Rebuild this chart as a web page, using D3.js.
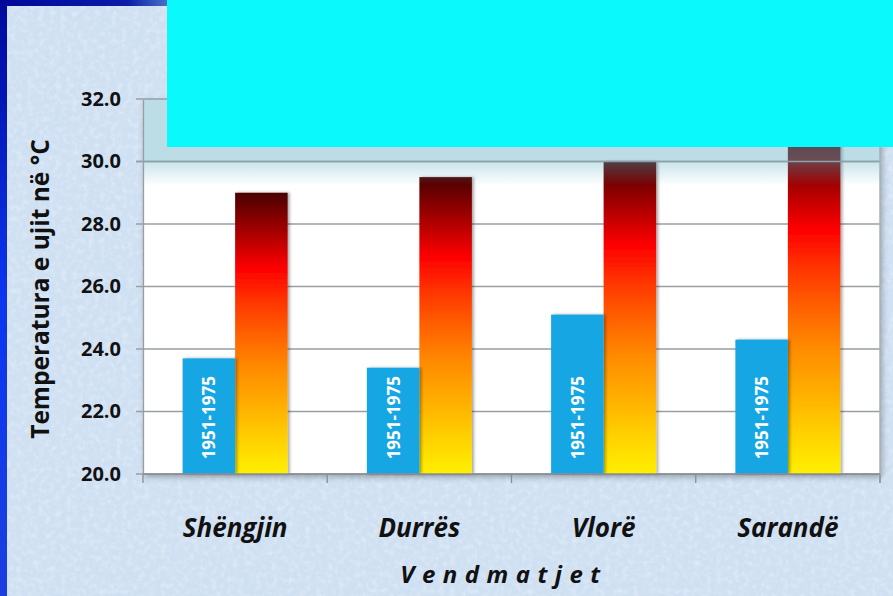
<!DOCTYPE html>
<html>
<head>
<meta charset="utf-8">
<script src="https://cdn.jsdelivr.net/npm/d3@7"></script>
<style>
  html, body { margin: 0; padding: 0; background: #0a1aa8; }
  svg { display: block; }
</style>
</head>
<body>
<svg width="893" height="596"></svg>
<script>
// data
var places = ["Shëngjin", "Durrës", "Vlorë", "Sarandë"]
var series = ["old", "new"]
var oldTemps = [23.7, 23.4, 25.1, 24.3]   // 1951-1975
var newTemps = [29.0, 29.5, 30.0, 30.7]
var yTicks = [20, 22, 24, 26, 28, 30, 32]
var periodLabel = "1951-1975"

var svg = d3.select('svg')
var W = 893, H = 596
var plotLeft = 143, plotRight = 880, plotTop = 99, plotBottom = 474

var defs = svg.append('defs')

// blue frame
var frame = defs.append('linearGradient').attr('id', 'frame').attr('x1', 0).attr('y1', 0).attr('x2', 0).attr('y2', 1)
frame.append('stop').attr('offset', 0).attr('stop-color', '#00089a')
frame.append('stop').attr('offset', 0.5).attr('stop-color', '#0b36f0')
frame.append('stop').attr('offset', 1).attr('stop-color', '#1a3ee0')
var topFrame = defs.append('linearGradient').attr('id', 'topframe').attr('x1', 0).attr('y1', 0).attr('x2', 1).attr('y2', 0)
topFrame.append('stop').attr('offset', 0).attr('stop-color', '#00089a')
topFrame.append('stop').attr('offset', 0.75).attr('stop-color', '#0a1ca8')
topFrame.append('stop').attr('offset', 1).attr('stop-color', '#4c78c8')

var hot = defs.append('linearGradient').attr('id', 'hot').attr('x1', 0).attr('y1', 0).attr('x2', 0).attr('y2', 1)
var hotStops = [[0, '#4a0000'], [0.13, '#a00000'], [0.27, '#ff0000'], [0.38, '#ff3300'], [0.5, '#ff6000'],
  [0.62, '#ff8a00'], [0.74, '#ffaa00'], [0.86, '#ffcc00'], [1, '#fff000']]
hotStops.forEach(function(s){ hot.append('stop').attr('offset', s[0]).attr('stop-color', s[1]) })

var fade = defs.append('linearGradient').attr('id', 'fade').attr('x1', 0).attr('y1', 0).attr('x2', 0).attr('y2', 1)
fade.append('stop').attr('offset', 0).attr('stop-color', 'rgb(100,177,198)').attr('stop-opacity', 0.35)
fade.append('stop').attr('offset', 1).attr('stop-color', 'rgb(100,177,198)').attr('stop-opacity', 0)

var paper = defs.append('filter').attr('id', 'paper').attr('x', 0).attr('y', 0).attr('width', '100%').attr('height', '100%')
paper.append('feTurbulence').attr('type', 'fractalNoise').attr('baseFrequency', 0.18).attr('numOctaves', 3).attr('seed', 4)
paper.append('feColorMatrix').attr('type', 'matrix')
  .attr('values', '0 0 0 0 1  0 0 0 0 1  0 0 0 0 1  0 0 0 0.7 -0.3')

var shadow = defs.append('filter').attr('id', 'shadow').attr('x', '-20%').attr('y', '-5%').attr('width', '140%').attr('height', '110%')
shadow.append('feDropShadow').attr('dx', 2).attr('dy', 0).attr('stdDeviation', 1.5).attr('flood-color', '#000').attr('flood-opacity', 0.35)

var plotShadow = defs.append('filter').attr('id', 'pshadow').attr('x', '-5%').attr('y', '-5%').attr('width', '110%').attr('height', '115%')
plotShadow.append('feDropShadow').attr('dx', 2).attr('dy', 3).attr('stdDeviation', 3).attr('flood-color', '#000').attr('flood-opacity', 0.3)

// background
svg.append('rect').attr('width', W).attr('height', H).attr('fill', 'url(#frame)')
svg.append('rect').attr('width', 170).attr('height', 7).attr('fill', 'url(#topframe)')
svg.append('rect').attr('x', 7).attr('y', 6).attr('width', W - 7).attr('height', H - 6).attr('fill', '#cfe0f2')
svg.append('rect').attr('x', 7).attr('y', 6).attr('width', W - 7).attr('height', H - 6).attr('filter', 'url(#paper)')

// scales
var y = d3.scaleLinear().domain([20, 32]).range([plotBottom, plotTop])
var x0 = d3.scaleBand().domain(places).range([plotLeft, plotRight])
var x1 = d3.scaleBand().domain(series).range([0, x0.bandwidth()]).paddingInner(0).paddingOuter(0.755)

// plot area
svg.append('rect').attr('x', plotLeft).attr('y', plotTop).attr('width', plotRight - plotLeft).attr('height', plotBottom - plotTop)
  .attr('fill', '#fff').attr('filter', 'url(#pshadow)')

svg.append('g').selectAll('line').data(yTicks).enter().append('line')
  .attr('x1', plotLeft - 7).attr('x2', plotRight)
  .attr('y1', function(d){ return y(d) }).attr('y2', function(d){ return y(d) })
  .attr('stroke', '#9a9ea2').attr('stroke-width', 1.3)

// bars
var groups = svg.append('g').selectAll('g').data(places).enter().append('g')
  .attr('transform', function(d){ return 'translate(' + x0(d) + ',0)' })

groups.append('rect')
  .attr('x', x1('new')).attr('width', x1.bandwidth())
  .attr('y', function(d, i){ return y(newTemps[i]) })
  .attr('height', function(d, i){ return plotBottom - y(newTemps[i]) })
  .attr('fill', 'url(#hot)').attr('filter', 'url(#shadow)')

groups.append('rect')
  .attr('x', x1('old')).attr('width', x1.bandwidth())
  .attr('y', function(d, i){ return y(oldTemps[i]) })
  .attr('height', function(d, i){ return plotBottom - y(oldTemps[i]) })
  .attr('fill', '#12a6e4').attr('filter', 'url(#shadow)')

groups.append('text')
  .attr('transform', 'translate(' + (x1('old') + x1.bandwidth() / 2) + ',' + y(21.8) + ') rotate(-90)')
  .attr('text-anchor', 'middle').attr('dominant-baseline', 'central')
  .attr('font-family', 'Open Sans, sans-serif').attr('font-weight', 'bold').attr('font-size', 17)
  .attr('fill', '#fff').text(periodLabel)

// bluish band at the top of the plot (shadow of the box above)
svg.append('rect').attr('x', plotLeft).attr('y', y(32)).attr('width', plotRight - plotLeft).attr('height', y(30) - y(32))
  .attr('fill', 'rgb(100,177,198)').attr('fill-opacity', 0.43)
svg.append('rect').attr('x', plotLeft).attr('y', y(30)).attr('width', plotRight - plotLeft).attr('height', 24)
  .attr('fill', 'url(#fade)')
svg.append('line').attr('x1', plotLeft - 7).attr('x2', plotRight).attr('y1', y(30)).attr('y2', y(30))
  .attr('stroke', '#8fa0a8').attr('stroke-width', 1.3)
svg.append('line').attr('x1', plotRight).attr('x2', plotRight).attr('y1', plotTop).attr('y2', plotBottom + 9)
  .attr('stroke', '#a8b0b8').attr('stroke-width', 1.5)

// axes
var yAxis = svg.append('g').attr('transform', 'translate(' + plotLeft + ',0)')
  .call(d3.axisLeft(y).tickValues(yTicks).tickFormat(d3.format('.1f')).tickSize(0).tickPadding(22))
yAxis.select('.domain').attr('stroke', '#9a9ea2').attr('stroke-width', 1.3)
yAxis.selectAll('text').attr('font-family', 'Open Sans, sans-serif').attr('font-weight', 'bold')
  .attr('font-size', 20).attr('fill', '#111')

var xAxis = svg.append('g').attr('transform', 'translate(0,' + plotBottom + ')')
xAxis.append('line').attr('x1', plotLeft).attr('x2', plotRight).attr('stroke', '#8a8e92').attr('stroke-width', 1.5)
xAxis.selectAll('.tk').data(places.concat(['end'])).enter().append('line')
  .attr('x1', function(d, i){ return plotLeft + i * x0.step() }).attr('x2', function(d, i){ return plotLeft + i * x0.step() })
  .attr('y1', 0).attr('y2', 9).attr('stroke', '#8a8e92').attr('stroke-width', 1.3)

svg.append('g').selectAll('text').data(places).enter().append('text')
  .attr('x', function(d){ return x0(d) + x0.bandwidth() / 2 }).attr('y', 537)
  .attr('text-anchor', 'middle')
  .attr('font-family', 'Open Sans, sans-serif').attr('font-weight', 'bold').attr('font-style', 'italic')
  .attr('font-size', 26).attr('fill', '#111')
  .text(function(d){ return d })

svg.append('text').attr('x', 504).attr('y', 583).attr('text-anchor', 'middle')
  .attr('font-family', 'Open Sans, sans-serif').attr('font-weight', 'bold').attr('font-style', 'italic')
  .attr('font-size', 24).attr('letter-spacing', 7.5).attr('fill', '#111')
  .text('Vendmatjet')

svg.append('text').attr('transform', 'translate(49,289) rotate(-90)').attr('text-anchor', 'middle')
  .attr('font-family', 'Open Sans, sans-serif').attr('font-weight', 'bold')
  .attr('font-size', 24.5).attr('fill', '#111')
  .text('Temperatura e ujit në °C')

// cyan box covering the title
svg.append('rect').attr('x', 167).attr('y', 0).attr('width', W - 167).attr('height', 147).attr('fill', '#0af9fd')
</script>
</body>
</html>
